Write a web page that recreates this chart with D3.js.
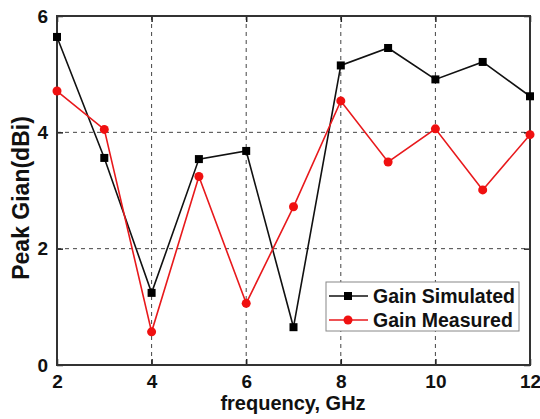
<!DOCTYPE html>
<html>
<head>
<meta charset="utf-8">
<script src="https://cdn.jsdelivr.net/npm/d3@7"></script>
<style>
  body { margin: 0; background: #fff; }
  text { font-family: "Liberation Sans", Arial, sans-serif; font-weight: bold; fill: #111; }
</style>
</head>
<body>
<svg width="540" height="419"></svg>
<script>
const freq = [2, 3, 4, 5, 6, 7, 8, 9, 10, 11, 12];
const simulated = [5.64, 3.56, 1.24, 3.54, 3.68, 0.65, 5.15, 5.45, 4.91, 5.21, 4.62];
const measured = [4.71, 4.05, 0.57, 3.24, 1.06, 2.72, 4.54, 3.49, 4.06, 3.01, 3.96];
const xTicks = [2, 4, 6, 8, 10, 12];
const yTicks = [0, 2, 4, 6];

const svg = d3.select('svg');
const m = {left: 57, right: 10, top: 16, bottom: 54};
const W = 540, H = 419;

const x = d3.scaleLinear().domain([2, 12]).range([m.left, W - m.right]);
const y = d3.scaleLinear().domain([0, 6]).range([H - m.bottom, m.top]);

// grid
const grid = svg.append('g')
    .attr('stroke', '#444')
    .attr('stroke-width', 1)
    .attr('stroke-dasharray', '4,4');
grid.selectAll('.gx').data(xTicks.slice(1, -1)).enter()
    .append('line')
    .attr('x1', d => x(d)).attr('x2', d => x(d))
    .attr('y1', y(6)).attr('y2', y(0));
grid.selectAll('.gy').data(yTicks.slice(1, -1)).enter()
    .append('line')
    .attr('x1', x(2)).attr('x2', x(12))
    .attr('y1', d => y(d)).attr('y2', d => y(d));

// axes
svg.append('g')
    .attr('transform', `translate(0,${y(0)})`)
    .call(d3.axisBottom(x).tickValues(xTicks).tickSize(-6).tickPadding(10).tickFormat(d3.format('d')))
    .call(g => g.select('.domain').remove());
svg.append('g')
    .attr('transform', `translate(0,${y(6)})`)
    .call(d3.axisTop(x).tickValues(xTicks).tickSize(-6).tickFormat(''))
    .call(g => g.select('.domain').remove());
svg.append('g')
    .attr('transform', `translate(${x(2)},0)`)
    .call(d3.axisLeft(y).tickValues(yTicks).tickSize(-6).tickPadding(9).tickFormat(d3.format('d')))
    .call(g => g.select('.domain').remove());
svg.append('g')
    .attr('transform', `translate(${x(12)},0)`)
    .call(d3.axisRight(y).tickValues(yTicks).tickSize(-6).tickFormat(''))
    .call(g => g.select('.domain').remove());

svg.selectAll('.tick line').attr('stroke', '#222').attr('stroke-width', 1.5);
svg.selectAll('.tick text').style('font-size', '19px').style('font-family', '"Liberation Sans", Arial, sans-serif').style('font-weight', 'bold').attr('fill', '#111');

svg.append('rect')
    .attr('x', x(2)).attr('y', y(6))
    .attr('width', x(12) - x(2)).attr('height', y(0) - y(6))
    .attr('fill', 'none').attr('stroke', '#333').attr('stroke-width', 2);

// lines
const line = d3.line().x((d, i) => x(freq[i])).y(d => y(d));

svg.append('path').datum(simulated)
    .attr('d', line).attr('fill', 'none')
    .attr('stroke', '#111').attr('stroke-width', 1.6);
svg.append('path').datum(measured)
    .attr('d', line).attr('fill', 'none')
    .attr('stroke', '#e8191c').attr('stroke-width', 1.6);

svg.selectAll('.sq').data(simulated).enter()
    .append('rect')
    .attr('x', (d, i) => x(freq[i]) - 4).attr('y', d => y(d) - 4)
    .attr('width', 8).attr('height', 8).attr('fill', '#000');
svg.selectAll('.ci').data(measured).enter()
    .append('circle')
    .attr('cx', (d, i) => x(freq[i])).attr('cy', d => y(d))
    .attr('r', 4.5).attr('fill', '#f01010');

// axis titles
svg.append('text')
    .attr('x', 293).attr('y', 410)
    .attr('text-anchor', 'middle')
    .style('font-size', '20px')
    .text('frequency, GHz');
svg.append('text')
    .attr('transform', `translate(29,198) rotate(-90)`)
    .attr('text-anchor', 'middle')
    .style('font-size', '23px')
    .text('Peak Gian(dBi)');

// legend
const lg = svg.append('g').attr('transform', 'translate(326,282)');
lg.append('rect')
    .attr('width', 193).attr('height', 49)
    .attr('fill', '#fff').attr('stroke', '#888').attr('stroke-width', 1);
const items = [
    {name: 'Gain Simulated', color: '#111', shape: 'sq'},
    {name: 'Gain Measured', color: '#e8191c', shape: 'ci'}
];
items.forEach((it, i) => {
    const cy = 14 + i * 24;
    lg.append('line').attr('x1', 3).attr('x2', 42).attr('y1', cy).attr('y2', cy)
        .attr('stroke', it.color).attr('stroke-width', 1.6);
    if (it.shape === 'sq') {
        lg.append('rect').attr('x', 18).attr('y', cy - 4).attr('width', 8).attr('height', 8).attr('fill', '#000');
    } else {
        lg.append('circle').attr('cx', 22).attr('cy', cy).attr('r', 4.5).attr('fill', '#f01010');
    }
    lg.append('text').attr('x', 47).attr('y', cy + 7)
        .style('font-size', '19.5px').text(it.name);
});
</script>
</body>
</html>
